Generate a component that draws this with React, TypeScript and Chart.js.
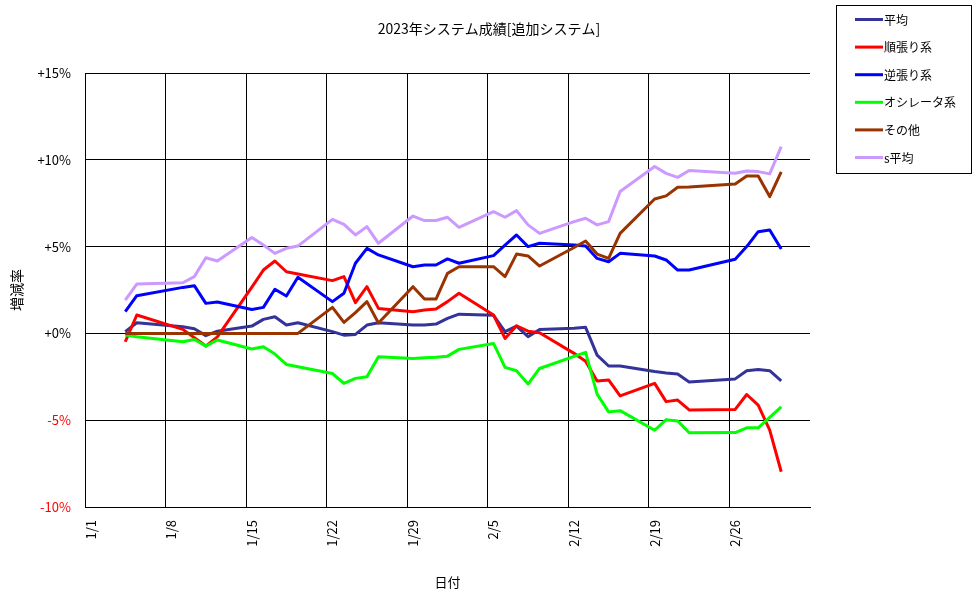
import React, { useEffect, useRef } from 'react';
import { Chart, registerables } from 'chart.js';

Chart.register(...registerables);

const chartTitle = '2023年システム成績[追加システム]';
const xAxisTitle = '日付';
const yAxisTitle = '増減率';

// x-axis ticks shown (every 7 days)
const xTickLabels = ['1/1', '1/8', '1/15', '1/22', '1/29', '2/5', '2/12', '2/19', '2/26'];
const xAxisStart = '2023-01-01';
const xAxisDays = 63; // date axis 1/1 .. 3/4
const yTicks = { min: -10, max: 15, step: 5 };

// dates of the plotted points
const dates = [
  '1/4', '1/5', '1/9', '1/10', '1/11', '1/12', '1/15', '1/16', '1/17', '1/18', '1/19',
  '1/22', '1/23', '1/24', '1/25', '1/26', '1/29', '1/30', '1/31', '2/1', '2/2',
  '2/5', '2/6', '2/7', '2/8', '2/9', '2/12', '2/13', '2/14', '2/15', '2/16',
  '2/19', '2/20', '2/21', '2/22', '2/26', '2/27', '2/28', '3/1', '3/2',
];

const heikin = [
  0.1, 0.61, 0.38, 0.27, -0.13, 0.13, 0.42, 0.81, 0.96, 0.48, 0.61,
  0.1, -0.1, -0.06, 0.48, 0.61, 0.48, 0.48, 0.54, 0.86, 1.11,
  1.04, 0.1, 0.42, -0.19, 0.23, 0.29, 0.35, -1.25, -1.88, -1.88,
  -2.2, -2.28, -2.34, -2.8, -2.62, -2.15, -2.08, -2.15, -2.73,
];
const junbari = [
  -0.48, 1.06, 0.23, -0.25, -0.73, -0.2, 2.67, 3.65, 4.17, 3.55, 3.42,
  3.04, 3.27, 1.77, 2.69, 1.44, 1.25, 1.35, 1.4, 1.83, 2.31,
  1.06, -0.29, 0.44, 0.13, 0.04, -1.15, -1.6, -2.74, -2.68, -3.6,
  -2.88, -3.93, -3.84, -4.41, -4.38, -3.52, -4.13, -5.57, -7.97,
];
const gyakubari = [
  1.25, 2.17, 2.65, 2.75, 1.73, 1.81, 1.38, 1.5, 2.54, 2.15, 3.23,
  1.83, 2.31, 4.04, 4.9, 4.52, 3.84, 3.94, 3.94, 4.29, 4.04,
  4.48, 5.09, 5.67, 5.0, 5.19, 5.09, 5.03, 4.32, 4.13, 4.61,
  4.46, 4.23, 3.65, 3.65, 4.27, 5.0, 5.86, 5.96, 4.86,
];
const oscillator = [
  -0.1, -0.19, -0.48, -0.35, -0.73, -0.38, -0.9, -0.77, -1.19, -1.79, -1.92,
  -2.31, -2.88, -2.59, -2.5, -1.35, -1.44, -1.4, -1.38, -1.31, -0.92,
  -0.58, -1.96, -2.15, -2.92, -2.02, -1.32, -1.09, -3.5, -4.52, -4.45,
  -5.58, -4.97, -5.04, -5.72, -5.71, -5.44, -5.44, -4.84, -4.23,
];
const sonota = [
  0, 0, 0, 0, 0, 0, 0, 0, 0, 0, 0,
  1.5, 0.63, 1.2, 1.83, 0.6, 2.69, 1.98, 1.98, 3.46, 3.84,
  3.84, 3.27, 4.57, 4.46, 3.88, 4.95, 5.32, 4.57, 4.32, 5.76,
  7.74, 7.92, 8.42, 8.43, 8.61, 9.07, 9.07, 7.88, 9.3,
];
const sHeikin = [
  1.92, 2.84, 2.92, 3.27, 4.36, 4.17, 5.52, 5.09, 4.61, 4.9, 5.03,
  6.57, 6.28, 5.67, 6.15, 5.19, 6.76, 6.5, 6.5, 6.69, 6.11,
  7.01, 6.69, 7.07, 6.25, 5.76, 6.44, 6.63, 6.25, 6.44, 8.17,
  9.61, 9.22, 8.99, 9.38, 9.22, 9.36, 9.32, 9.19, 10.76,
];

const seriesNames = ['平均', '順張り系', '逆張り系', 'オシレータ系', 'その他', 's平均'];
const seriesValues = [heikin, junbari, gyakubari, oscillator, sonota, sHeikin];
const seriesColors = ['#333399', '#FF0000', '#0000FF', '#00FF00', '#993300', '#CC99FF'];

const FONT = "'Noto Sans CJK JP', 'Noto Sans', sans-serif";

function buildAxisLabels(): string[] {
  const out: string[] = [];
  const start = new Date(xAxisStart + 'T00:00:00');
  for (let i = 0; i < xAxisDays; i++) {
    const d = new Date(start.getTime());
    d.setDate(start.getDate() + i);
    out.push(`${d.getMonth() + 1}/${d.getDate()}`);
  }
  return out;
}

const overlayPlugin = {
  id: 'overlay',
  afterDraw(chart: any) {
    const ctx = chart.ctx as CanvasRenderingContext2D;
    ctx.save();
    // title
    ctx.fillStyle = '#000';
    ctx.font = `14px ${FONT}`;
    ctx.textAlign = 'center';
    ctx.textBaseline = 'middle';
    ctx.fillText(chartTitle, chart.width / 2 + 1, 29);

    // legend box
    const bx = 836.5, by = 5.5, bw = 135, bh = 168;
    ctx.lineWidth = 1;
    ctx.strokeStyle = '#000';
    ctx.strokeRect(bx, by, bw, bh);
    ctx.font = `12px ${FONT}`;
    ctx.textAlign = 'left';
    seriesNames.forEach((name, i) => {
      const y = 19.5 + i * 27.6;
      ctx.strokeStyle = seriesColors[i];
      ctx.lineWidth = 3;
      ctx.beginPath();
      ctx.moveTo(855, y);
      ctx.lineTo(883, y);
      ctx.stroke();
      ctx.fillStyle = '#000';
      ctx.fillText(name, 884, y + 0.5);
    });
    ctx.restore();
  },
};

export default function App() {
  const canvasRef = useRef<HTMLCanvasElement | null>(null);

  useEffect(() => {
    document.body.style.margin = '0';
    const canvas = canvasRef.current;
    if (!canvas) return;
    const axisLabels = buildAxisLabels();

    const chart = new Chart(canvas, {
      type: 'line',
      data: {
        labels: axisLabels,
        datasets: seriesNames.map((name, i) => ({
          label: name,
          data: dates.map((d, j) => ({ x: d, y: seriesValues[i][j] })),
          borderColor: seriesColors[i],
          backgroundColor: seriesColors[i],
          borderWidth: 3,
          pointRadius: 0,
          tension: 0,
          fill: false,
          borderJoinStyle: 'round' as const,
          order: seriesNames.length - i,
        })),
      },
      options: {
        responsive: false,
        animation: false,
        events: [],
        layout: { padding: { top: 73, right: 166, left: 0, bottom: 0 } },
        plugins: {
          legend: { display: false },
          title: { display: false },
          tooltip: { enabled: false },
        },
        scales: {
          x: {
            type: 'category',
            offset: true,
            afterFit: (scale: any) => { scale.height = 92; },
            grid: {
              offset: true,
              drawTicks: false,
              color: (ctx: any) => (ctx.index % 7 === 0 ? '#000' : 'rgba(0,0,0,0)'),
              lineWidth: 1,
            },
            border: { display: true, color: '#000', width: 1 },
            ticks: {
              autoSkip: false,
              maxRotation: 90,
              minRotation: 90,
              padding: 13,
              color: '#000',
              font: { family: FONT, size: 13 },
              callback: (_v: any, i: number) => (xTickLabels.includes(axisLabels[i]) ? axisLabels[i] : ''),
            },
            title: {
              display: true,
              text: xAxisTitle,
              color: '#000',
              font: { family: FONT, size: 13 },
              padding: { top: 0, bottom: 9 },
            },
          },
          y: {
            min: yTicks.min,
            max: yTicks.max,
            afterFit: (scale: any) => { scale.width = 85; },
            grid: { color: '#000', drawTicks: false, lineWidth: 1 },
            border: { display: true, color: '#000', width: 1 },
            ticks: {
              stepSize: yTicks.step,
              padding: 14,
              font: { family: FONT, size: 13 },
              color: (ctx: any) => (ctx.tick && ctx.tick.value < 0 ? '#FF0000' : '#000'),
              callback: (v: any) => (Number(v) >= 0 ? '+' : '-') + Math.abs(Number(v)) + '%',
            },
            title: {
              display: true,
              text: yAxisTitle,
              color: '#000',
              font: { family: FONT, size: 14 },
              padding: { top: 8, bottom: 0 },
            },
          },
        },
      },
      plugins: [overlayPlugin],
    } as any);

    return () => chart.destroy();
  }, []);

  return (
    <div style={{ width: 976, height: 599, background: '#fff' }}>
      <canvas ref={canvasRef} width={976} height={599} />
    </div>
  );
}
